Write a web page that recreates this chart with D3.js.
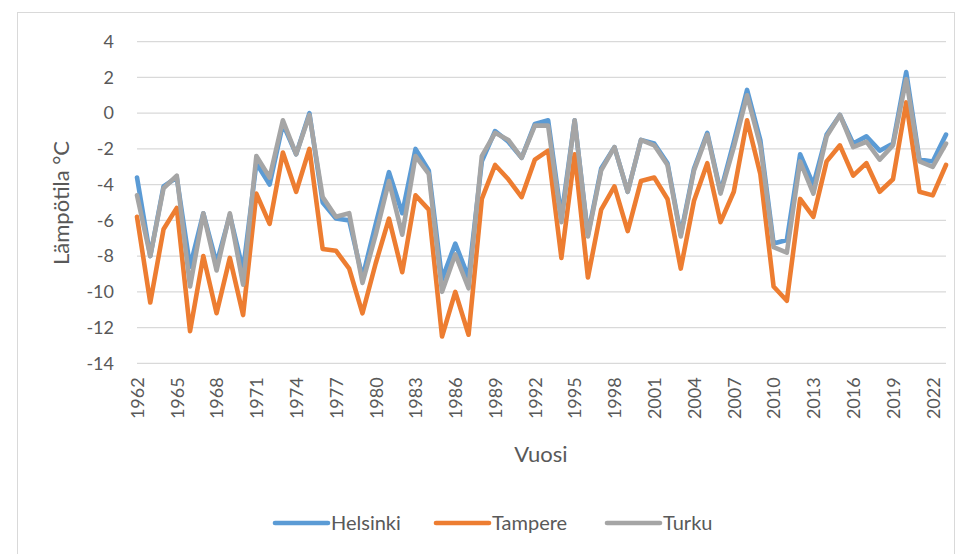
<!DOCTYPE html>
<html>
<head>
<meta charset="utf-8">
<script src="https://cdn.jsdelivr.net/npm/d3@7"></script>
<style>
  body { margin: 0; background: #fff; }
  svg text { font-family: Lato, "Liberation Sans", sans-serif; fill: #595959; }
</style>
</head>
<body>
<div id="chart"></div>
<script>
// vuodet 1962-2023
var years = d3.range(1962, 2024);

var helsinki = [-3.6, -8.0, -4.1, -3.6, -8.6, -5.6, -8.4, -5.7, -8.8, -2.8,
  -4.0, -0.6, -2.3, 0.0, -5.0, -5.9, -6.0, -9.2, -6.2, -3.3,
  -5.6, -2.0, -3.2, -9.3, -7.3, -9.2, -2.7, -1.0, -1.6, -2.5,
  -0.6, -0.4, -5.8, -0.4, -6.8, -3.1, -1.9, -4.4, -1.5, -1.7,
  -2.8, -6.8, -3.1, -1.1, -4.4, -1.6, 1.3, -1.5, -7.3, -7.1,
  -2.3, -4.0, -1.2, -0.1, -1.7, -1.3, -2.1, -1.7, 2.3, -2.6,
  -2.7, -1.2];

var tampere = [-5.8, -10.6, -6.5, -5.3, -12.2, -8.0, -11.2, -8.1, -11.3, -4.5,
  -6.2, -2.2, -4.4, -2.0, -7.6, -7.7, -8.7, -11.2, -8.4, -5.9,
  -8.9, -4.6, -5.4, -12.5, -10.0, -12.4, -4.8, -2.9, -3.7, -4.7,
  -2.6, -2.1, -8.1, -2.3, -9.2, -5.4, -4.1, -6.6, -3.8, -3.6,
  -4.8, -8.7, -4.9, -2.8, -6.1, -4.4, -0.4, -3.4, -9.7, -10.5,
  -4.8, -5.8, -2.7, -1.8, -3.5, -2.8, -4.4, -3.7, 0.6, -4.4,
  -4.6, -2.9];

var turku = [-4.6, -8.0, -4.2, -3.5, -9.7, -5.6, -8.8, -5.6, -9.6, -2.4,
  -3.6, -0.4, -2.3, -0.1, -4.7, -5.8, -5.6, -9.5, -6.8, -3.8,
  -6.8, -2.4, -3.4, -10.0, -7.9, -9.8, -2.4, -1.1, -1.5, -2.5,
  -0.7, -0.7, -6.1, -0.4, -6.9, -3.2, -1.9, -4.4, -1.5, -1.8,
  -2.9, -6.9, -3.2, -1.2, -4.5, -1.9, 1.0, -1.8, -7.5, -7.8,
  -2.7, -4.5, -1.3, -0.1, -1.9, -1.6, -2.6, -1.8, 1.9, -2.7,
  -3.0, -1.7];

var seriesNames = ["Helsinki", "Tampere", "Turku"];
var seriesColors = ["#5b9bd5", "#ed7d31", "#a5a5a5"];
var yTicks = [4, 2, 0, -2, -4, -6, -8, -10, -12, -14];

var W = 966, H = 554;

var svg = d3.select("#chart").append("svg")
    .attr("width", W)
    .attr("height", H);

// kaavion reunus
svg.append("rect")
    .attr("x", 17.5).attr("y", 12.5)
    .attr("width", 937).attr("height", 560)
    .attr("fill", "none")
    .attr("stroke", "#d9d9d9");

var x = d3.scalePoint().domain(years).range([137, 946]);
var y = d3.scaleLinear().domain([-14, 4]).range([363.3, 41.7]);

// vaakasuorat apuviivat
svg.append("g")
    .selectAll("line")
    .data(yTicks)
    .join("line")
    .attr("x1", 137).attr("x2", 946)
    .attr("y1", function (d) { return y(d); })
    .attr("y2", function (d) { return y(d); })
    .attr("stroke", "#d9d9d9")
    .attr("stroke-width", 1.3);

var yAxis = svg.append("g")
    .attr("transform", "translate(137,0)")
    .call(d3.axisLeft(y).tickValues(yTicks).tickSize(0).tickPadding(23)
        .tickFormat(function (d) { return d < 0 ? "-" + Math.abs(d) : d; }));
yAxis.select(".domain").remove();
yAxis.selectAll("text").style("font-size", "18px");

var xAxis = svg.append("g")
    .attr("transform", "translate(0," + y(-14) + ")")
    .call(d3.axisBottom(x)
        .tickValues(years.filter(function (d) { return (d - 1962) % 3 === 0; }))
        .tickSize(0));
xAxis.select(".domain").remove();
xAxis.selectAll("text")
    .style("font-size", "18px")
    .attr("text-anchor", "end")
    .attr("transform", "rotate(-90)")
    .attr("x", -14)
    .attr("y", 0)
    .attr("dy", "0.35em");

// akselien otsikot
svg.append("text")
    .attr("x", 541).attr("y", 462)
    .attr("text-anchor", "middle")
    .style("font-size", "22px")
    .text("Vuosi");

svg.append("text")
    .attr("transform", "translate(69,203) rotate(-90)")
    .attr("text-anchor", "middle")
    .style("font-size", "22px")
    .text("Lämpötila °C");

// viivat
var lineGen = d3.line()
    .x(function (d, i) { return x(years[i]); })
    .y(function (d) { return y(d); });

var allSeries = [helsinki, tampere, turku];
svg.append("g")
    .selectAll("path")
    .data(allSeries)
    .join("path")
    .attr("d", lineGen)
    .attr("fill", "none")
    .attr("stroke", function (d, i) { return seriesColors[i]; })
    .attr("stroke-width", 4.6)
    .attr("stroke-linejoin", "round")
    .attr("stroke-linecap", "round");

// selite
var legendX = [275, 436, 607];
var legend = svg.append("g")
    .selectAll("g")
    .data(seriesNames)
    .join("g")
    .attr("transform", function (d, i) { return "translate(" + legendX[i] + ",523)"; });

legend.append("line")
    .attr("x1", 0).attr("x2", 53)
    .attr("stroke", function (d, i) { return seriesColors[i]; })
    .attr("stroke-width", 4.6)
    .attr("stroke-linecap", "round");

legend.append("text")
    .attr("x", 56)
    .attr("dy", "0.35em")
    .style("font-size", "20px")
    .text(function (d) { return d; });
</script>
</body>
</html>
